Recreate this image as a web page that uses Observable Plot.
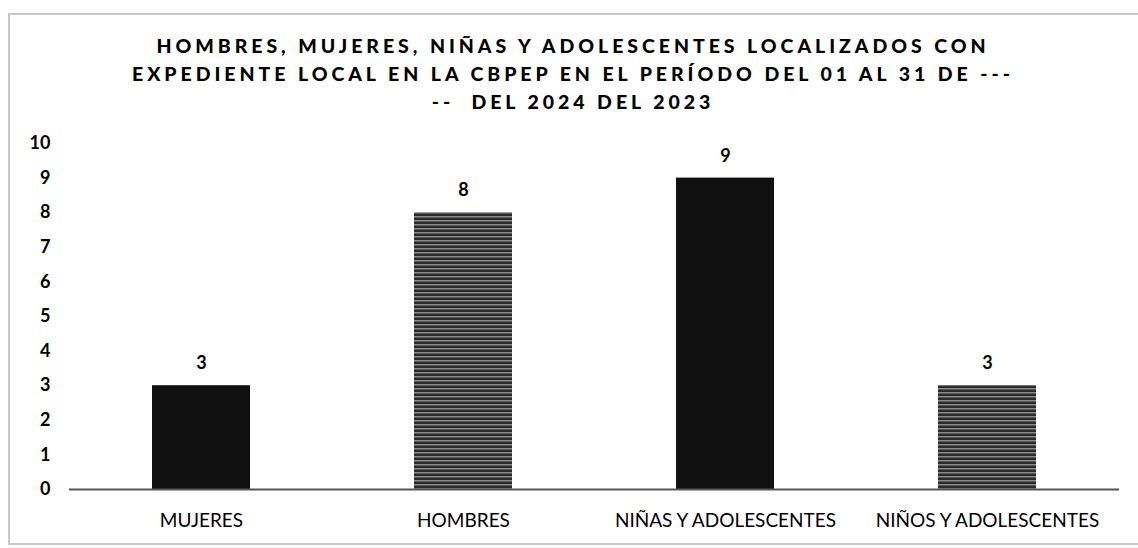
<!DOCTYPE html>
<html>
<head>
<meta charset="utf-8">
<script src="https://cdn.jsdelivr.net/npm/d3@7"></script>
<script src="https://cdn.jsdelivr.net/npm/@observablehq/plot@0.6"></script>
<style>
  html, body { margin: 0; padding: 0; background: #fff; width: 1138px; height: 548px; overflow: hidden; }
  #frame { position: absolute; left: 8px; top: 13px; width: 1140px; height: 532px; border: 2px solid #c8c8c8; box-sizing: border-box; }
  #title { position: absolute; left: 0; top: 32px; width: 1146px; text-align: center; font-family: Lato, sans-serif; font-weight: 900; font-size: 19.5px; letter-spacing: 3.95px; line-height: 28px; color: #000; }
  #chart { position: absolute; left: 0; top: 130px; }
</style>
</head>
<body>
<div id="frame"></div>
<div id="title">
  <div>HOMBRES, MUJERES, NIÑAS Y ADOLESCENTES LOCALIZADOS CON</div>
  <div>EXPEDIENTE LOCAL EN LA CBPEP EN EL PERÍODO DEL 01 AL 31 DE ---</div>
  <div>--&nbsp; DEL 2024 DEL 2023</div>
</div>
<div id="chart"></div>
<script>
const categories = ["MUJERES", "HOMBRES", "NIÑAS Y ADOLESCENTES", "NIÑOS Y ADOLESCENTES"];
const values = [3, 8, 9, 3];
const yTicks = [0, 1, 2, 3, 4, 5, 6, 7, 8, 9, 10];

const data = categories.map((c, i) => ({category: c, value: values[i]}));
const solid = data.filter((d, i) => i % 2 === 0);
const striped = data.filter((d, i) => i % 2 === 1);

const plot = Plot.plot({
  width: 1138,
  height: 418,
  marginLeft: 69,
  marginRight: 19,
  marginTop: 13,
  marginBottom: 59,
  style: {fontFamily: "Lato, sans-serif", fontSize: "19px", color: "#000", background: "transparent"},
  x: {domain: categories, paddingInner: 0.625, paddingOuter: 0.3125, label: null, tickSize: 0, tickPadding: 24},
  y: {domain: [0, 10], ticks: yTicks, label: null, tickSize: 0, tickPadding: 19, tickFormat: d => String(d)},
  marks: [
    Plot.barY(solid, {x: "category", y: "value", fill: "#111111"}),
    Plot.barY(striped, {x: "category", y: "value", fill: "url(#stripes)"}),
    Plot.ruleY([0], {stroke: "#555", strokeWidth: 2}),
    Plot.text(data, {x: "category", y: "value", text: d => String(d.value), dy: -22, fontWeight: "bold", fontSize: 18, fill: "#000"})
  ]
});

const svg = d3.select(plot);
const defs = svg.insert("defs", ":first-child");
const pat = defs.append("pattern")
  .attr("id", "stripes")
  .attr("patternUnits", "userSpaceOnUse")
  .attr("width", 8)
  .attr("height", 4);
pat.append("rect").attr("width", 8).attr("height", 4).attr("fill", "#2a2a2a");
pat.append("rect").attr("y", 2).attr("width", 8).attr("height", 1.5).attr("fill", "#8a8a8a");

svg.selectAll("g[aria-label='y-axis tick label'] text").attr("font-weight", "bold").attr("font-size", 18);

document.getElementById("chart").appendChild(plot);
</script>
</body>
</html>
